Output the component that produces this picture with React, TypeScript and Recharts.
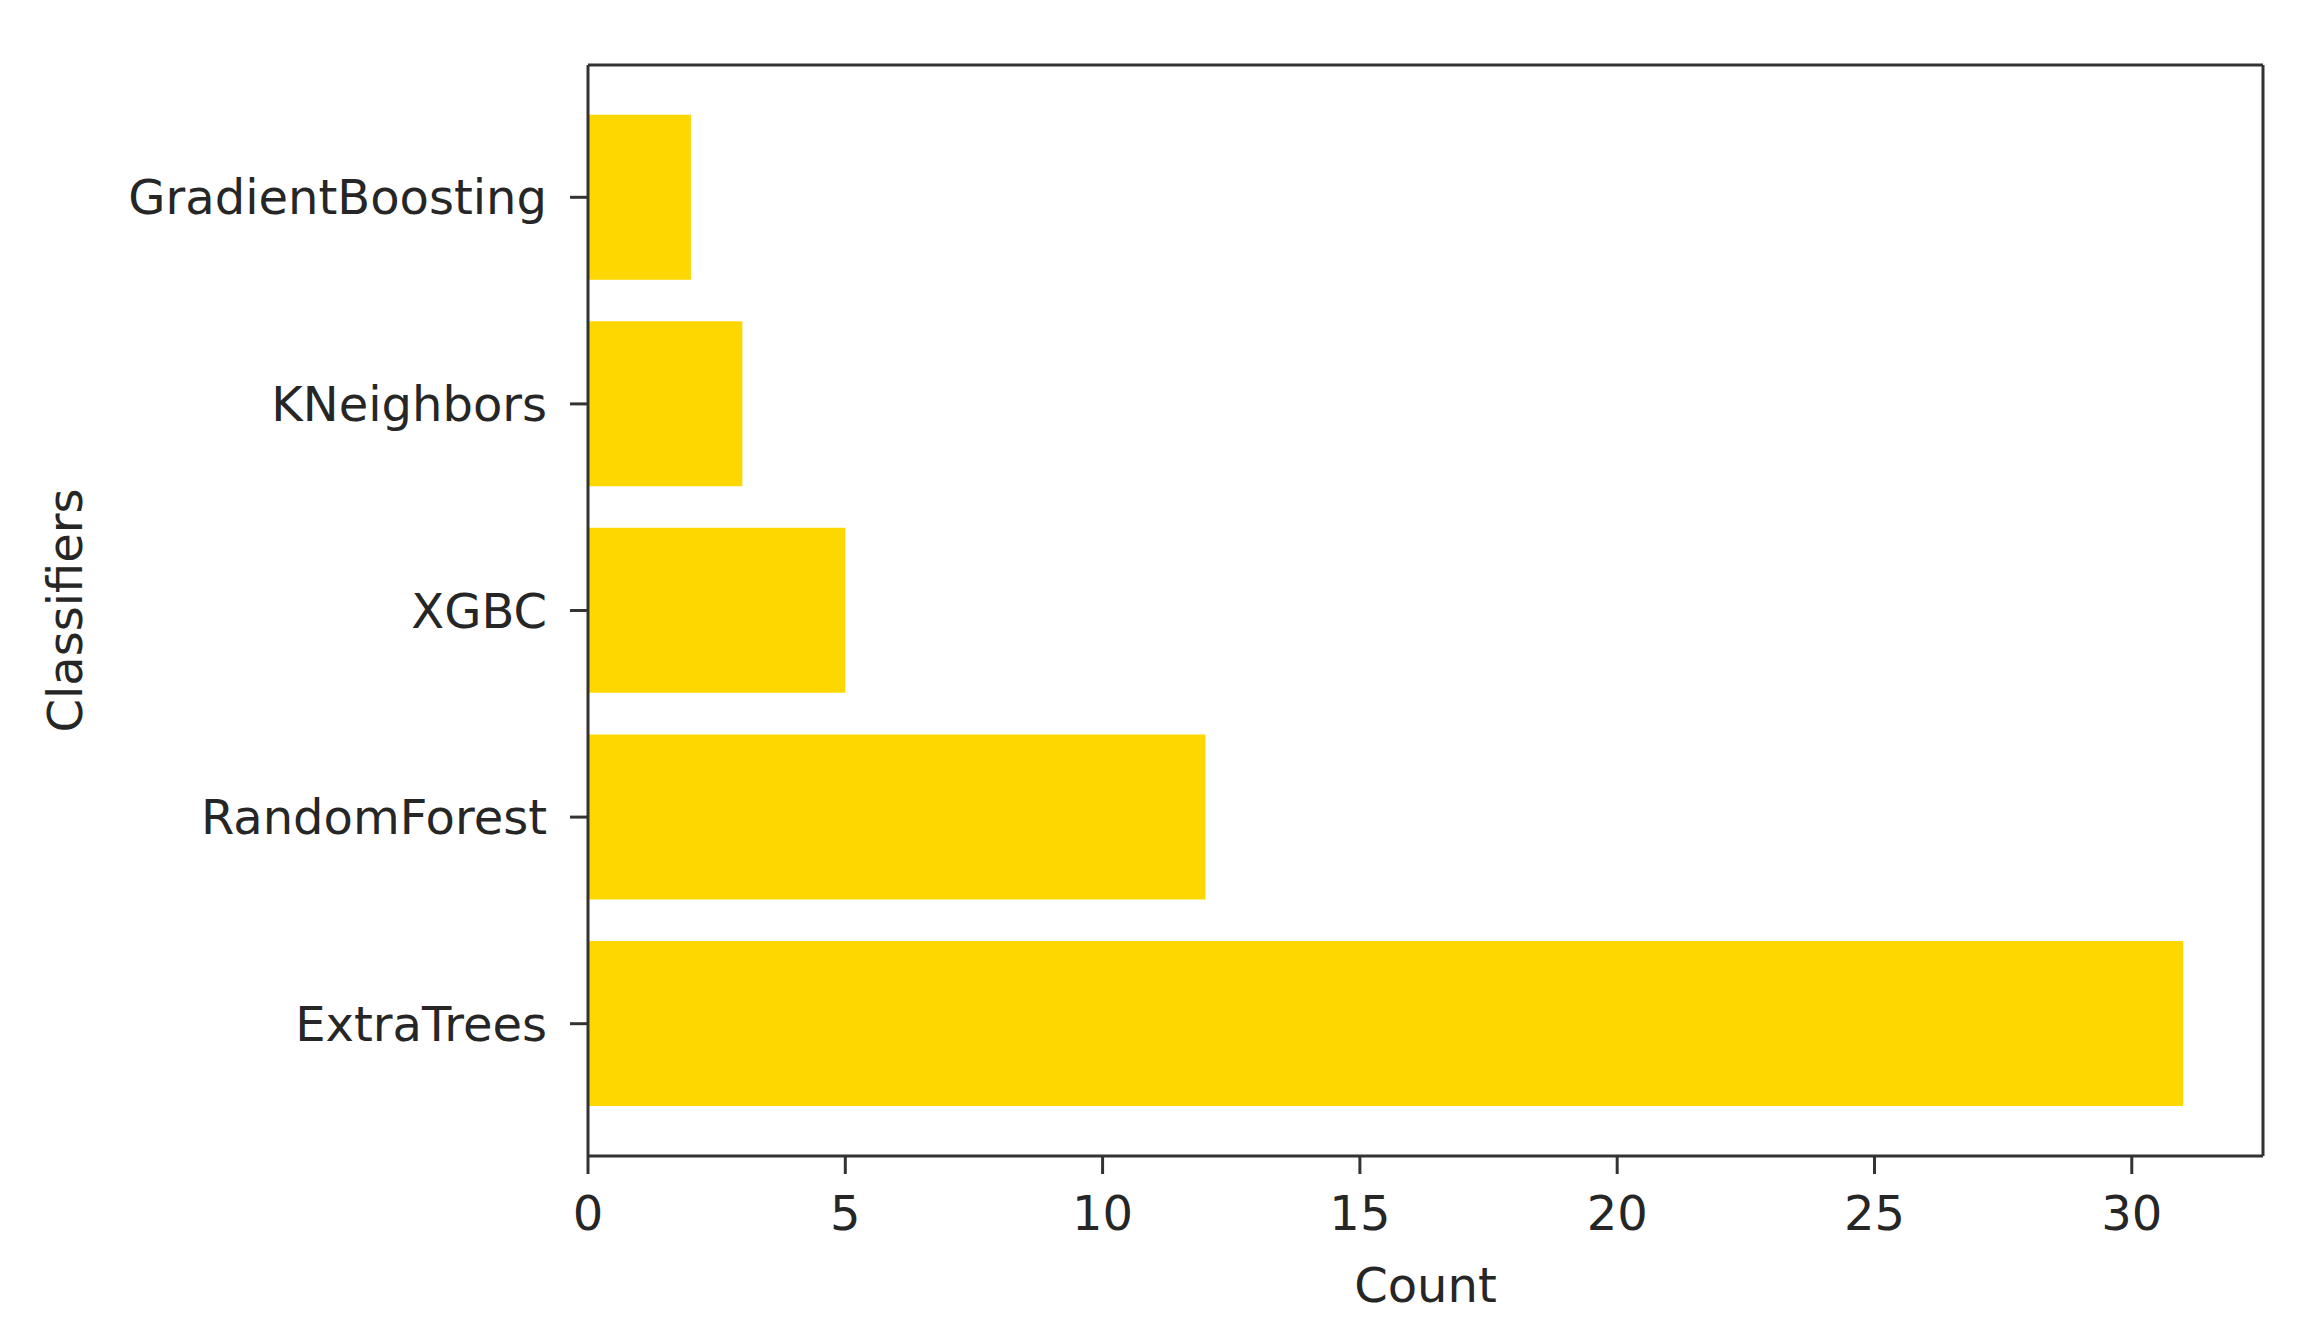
import React from "react";
import { BarChart, Bar, XAxis, YAxis } from "recharts";

const classifiers = ["GradientBoosting", "KNeighbors", "XGBC", "RandomForest", "ExtraTrees"];
const counts = [2, 3, 5, 12, 31];
const countTicks = [0, 5, 10, 15, 20, 25, 30];
const countMax = 32.55;

const data = classifiers.map((name, i) => ({ name, count: counts[i] }));

const font = "DejaVu Sans";
const ink = "#262626";
const axisColor = "#333333";

const tickStyle = { fontFamily: font, fontSize: 48, fill: ink };
const frameLine = { stroke: axisColor, strokeWidth: 3 };

const ClassifiersLabel = (props: any) => {
  const vb = props.viewBox || {};
  const cx = 65;
  const cy = vb.y + vb.height / 2;
  return (
    <text
      x={cx}
      y={cy}
      transform={`rotate(-90, ${cx}, ${cy})`}
      textAnchor="middle"
      dominantBaseline="central"
      fontFamily={font}
      fontSize={48}
      fill={ink}
    >
      Classifiers
    </text>
  );
};

export default function App() {
  return (
    <div style={{ position: "absolute", left: 0, top: 0, background: "#fff" }}>
      <BarChart
        width={2299}
        height={1332}
        data={data}
        layout="vertical"
        margin={{ top: 64, right: 35, bottom: 0, left: 0 }}
        barCategoryGap="10%"
      >
        <XAxis
          type="number"
          dataKey="count"
          domain={[0, countMax]}
          ticks={countTicks}
          allowDataOverflow
          height={176}
          tickSize={18}
          tickMargin={22}
          tick={tickStyle}
          axisLine={frameLine}
          tickLine={frameLine}
          label={{ value: "Count", position: "insideBottom", offset: 30, style: { fontFamily: font, fontSize: 48, fill: ink } }}
        />
        <XAxis
          xAxisId="top"
          orientation="top"
          type="number"
          domain={[0, countMax]}
          allowDataOverflow
          height={1}
          tick={false}
          tickLine={false}
          axisLine={frameLine}
        />
        <YAxis
          type="category"
          dataKey="name"
          width={588}
          padding={{ top: 29, bottom: 29 }}
          tickSize={18}
          tickMargin={23}
          tick={tickStyle}
          axisLine={frameLine}
          tickLine={frameLine}
          label={<ClassifiersLabel />}
        />
        <YAxis
          yAxisId="right"
          orientation="right"
          type="category"
          dataKey="name"
          width={1}
          tick={false}
          tickLine={false}
          axisLine={frameLine}
        />
        <Bar dataKey="count" fill="#FFD700" isAnimationActive={false} />
      </BarChart>
    </div>
  );
}
